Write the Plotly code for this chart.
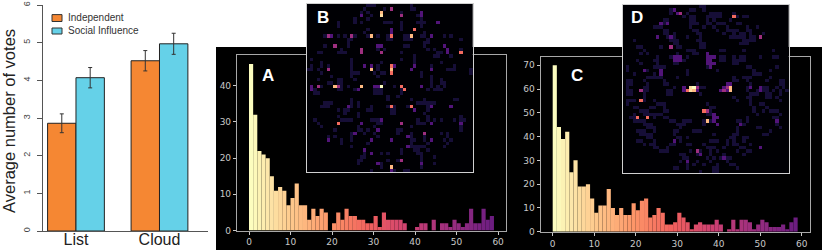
import plotly.graph_objects as go
from plotly.colors import sample_colorscale

W, H = 822, 250
# ---------- data ----------
CATEGORIES = ["List", "Cloud"]
INDEPENDENT = [2.86, 4.52]
INDEPENDENT_ERR = [0.25, 0.27]
SOCIAL = [4.07, 4.97]
SOCIAL_ERR = [0.27, 0.28]

HIST_A = [46,32,22,21,20,15,11,12,11,7,9,13,7,7,3,6,4,6,5,0,2,5,3,6,4,4,3,3,2,2,4,1,5,3,3,3,3,2,0,0,
          1,2,2,0,3,0,2,2,1,3,2,1,2,6,2,2,6,3,4]
HIST_C = [70,44,39,42,25,30,19,19,20,14,8,11,11,18,10,7,10,7,7,12,9,13,14,6,7,10,8,3,3,4,8,6,4,1,3,4,3,3,3,5,
          3,0,1,5,1,5,5,4,1,3,5,4,2,2,2,3,1,4,6]

# heat-map cells: {row: [columns]} at each count level
B_LEVEL1 = {0:[18,19,20,31],1:[17,23,31,32],2:[16,18,28,34],3:[16,19,33],4:[18,34,14],
            5:[9,14,16,23,24,25,28,33,34,35],6:[9,28,34],7:[18,25,28],8:[25,17,35],
            9:[5,9,11,14,18,21,24,29,30,34,35,41,43],10:[12,13,24,25,29,30,31,36,46],11:[12,36,35],
            12:[5,12,22,29,30,35],13:[10,21,36,38,42,46,23],14:[3,4,9,10,11,28,39,40],15:[32,39,43,38],
            16:[1,13,28,32],17:[4,13,22,32,40],18:[1,4,6,13,21,25,32,37,44],19:[0,1,3,13,21,37,42,43,44,49],
            20:[4,13,14,15,20,22,23,34,49],21:[7,13,34,37,21],22:[3,9,10,14,37,40],23:[6,7,9,10,23,37,40,41],
            24:[4,9,10,12,20,21,26,37,39,41],25:[2,9,10,14,20,21,22,28,36,38,39,40],26:[2,3,20,21,22,28],
            27:[24,27],28:[13,24,31,35,44,45],29:[5,6,7,13,15,33,34,35,36,37,38],30:[4,5,6,12,13,15,19,24,26,30,36],
            31:[9,11,12,18,19,25,26,36],32:[11,15,25,26,35],33:[9,15,36,46],
            34:[2,10,11,12,13,19,20,21,33,36,38,40,44,46,47],35:[3,21,22,33,34,35,46],36:[4,15,20,31,46],
            37:[8,15,16,18,27,28,46],38:[13,17,20,27,31,40,42],39:[6,8,13,21,31,35,42],40:[10,13,31,32,35,41,43],
            41:[10,18,31,36,42],42:[13,31,32,33,34,35,41],43:[17,28,32,33,36],44:[17,22,24,28,33,34],
            45:[16,17,34,38],46:[15,16,24,27,34],47:[15,22,34,38],48:[22,34],49:[19,26,29,30]}
B_LEVEL2 = {2:[34],3:[16,34],5:[39],7:[25],8:[25],9:[7,37,13],12:[21,22,41],13:[42],14:[42,22],
            18:[19,26,32,17],19:[31,37],24:[1,20,21,34],25:[1,15],30:[12,37,43],31:[32],
            34:[22],35:[16,37,46],37:[21],38:[14],39:[30],40:[6,19,25,37],42:[30],43:[17],44:[19],47:[21,34],49:[25]}
B_LEVEL3 = {1:[25],3:[28],9:[6,13],12:[8],13:[16],14:[16,22],19:[6],24:[3,9],35:[28],38:[35],46:[28]}
B_LEVEL4 = {7:[32],9:[25],14:[46],18:[25],20:[25],24:[28],25:[29],30:[25,31],35:[9]}
B_LEVEL5 = {2:[22],9:[19,31],19:[19,25],24:[8,16],48:[25]}
B_LEVEL6 = {3:[22]}
B_LEVEL7 = {24:[22]}

D_LEVEL1 = {0:[23,24],1:[14,20,21,24],2:[14,19,26,27,28,29,33],3:[18,20,21,25,26,27,28,29,34,36,37],
            4:[12,13,20,21,25,27,32],5:[12,13,20,21,22,25,26,28,29,30,34,35],6:[9,10,11,20,24,27,31,37,40],
            7:[12,13,21,22,28,31,32,33,34,37,38],8:[12,13,15,22,23,30,33,35,36,38,42],9:[13,14,15,19,23,32,33,34,35,36,38,39],
            10:[3,14,15,16,22,23,36,37,38,39],11:[15,16,23,24,35,36,37],12:[4,5,11,16,17,23,24],
            13:[6,19,20,21,29,30,36,45],14:[5,7,16,21,22],15:[10,14,19,29,30,33,35,36,41,45,46],
            16:[4,9,10,16,18,29,30,33,34,35,36],17:[5,10,15,16,33,34],18:[1,9,10,11,12,25,37,38,46],
            19:[1,7,11,19,28,39,44],20:[3,9,11,19,39,40,41],21:[7,8,9,10,11,16,33,36,37,38,44],
            22:[1,2,6,12,33,34,37,43,47,48],23:[1,2,7,12,13,22,38,47,48],24:[1,6,7,15,23,24,37,42,43,46,48],
            25:[1,2,6,7,13,14,37,40,42,43,45,47,49],26:[1,2,6,13,14,23,38,39,40,43,44,47],
            27:[6,33,37,38,43,44,46],28:[1,2,3,6,9,34,38,47],29:[1,10,11,12,25,38,41,42],30:[3,4,8,9,12,26,27,39,43],
            31:[5,6,7,12,13,26,39,42,44,45,46],32:[3,6,7,8,9,10,11,25,26,40,47],33:[2,3,9,12,13,27,37,45,46],
            34:[3,4,5,6,14,15,18,19,20,24,25,26,34,35,37],35:[6,7,8,16,17,18,24,35,36,46],36:[7,8,9,17,34,40,41,47],
            37:[4,5,6,9,15,16,21,22,23,34,44],38:[5,6,7,8,15,27,33,34,42,43],39:[7,8,16,17,19,32,33,36,37],
            40:[4,5,9,17,26,27,28,31,33,36],41:[6,8,9,14,15,19,20,24,31,33,34,38],42:[9,10,13,25,26,27,30,35,36],
            43:[11,12,13,20,23,26,28,34,37,38],44:[17,18,22,26,30,36],45:[18,19,25,27,29,30,31,32],
            46:[17,22,26,31],47:[19,21,24,28,32,33],48:[15,16,19,27,28,34],49:[23,27,28]}
D_LEVEL2 = {1:[15],2:[16],5:[11,13],9:[10,14],14:[25],15:[15,16,17,25,26,27],16:[15,16,17,25,26],17:[25,26,27],18:[26],
            19:[6,11],20:[11],23:[31,32],24:[18,30,41,38],25:[18,22,29,31,41],34:[27,46],33:[27,28],32:[27],35:[28,35],
            40:[15],42:[41],45:[30],46:[19],44:[23]}
D_LEVEL3 = {2:[17],9:[41],12:[14],24:[22,31],25:[5,30],31:[25],43:[22]}
D_LEVEL4 = {3:[33],25:[19],28:[5],31:[24],33:[4,7]}
D_LEVEL5 = {24:[32],25:[32,21],34:[25]}
D_LEVEL6 = {24:[20],25:[20]}
D_LEVEL7 = {24:[21]}

B_LEVELS = [B_LEVEL1, B_LEVEL2, B_LEVEL3, B_LEVEL4, B_LEVEL5, B_LEVEL6, B_LEVEL7]
D_LEVELS = [D_LEVEL1, D_LEVEL2, D_LEVEL3, D_LEVEL4, D_LEVEL5, D_LEVEL6, D_LEVEL7]
LEVEL_COUNTS = [0.9, 2.3, 4.0, 6.2, 7.7, 8.4, 9.0]

def grid(levels):
    z = [[0]*50 for _ in range(50)]
    for count, lev in zip(LEVEL_COUNTS, levels):
        for r, cols in lev.items():
            for c in cols:
                z[r][c] = count
    return z

def hist_colors(n):
    return sample_colorscale("Magma", [1.0 - 0.68*i/(n-1) for i in range(n)])

def dx(a, b): return [a/W, b/W]
def dy(top, bottom): return [1-bottom/H, 1-top/H]

FRAME = "#a8a8a8"
TICKF = dict(family="DejaVu Sans", size=9, color="#c8c8c8")
fig = go.Figure()

# left bars
fig.add_trace(go.Bar(x=CATEGORIES, y=INDEPENDENT, name="Independent", marker=dict(color="#f58733", line=dict(color="#222", width=1)),
    error_y=dict(type="data", array=INDEPENDENT_ERR, color="#333", thickness=1, width=2), xaxis="x", yaxis="y", showlegend=False))
fig.add_trace(go.Bar(x=CATEGORIES, y=SOCIAL, name="Social Influence", marker=dict(color="#65d1e8", line=dict(color="#222", width=1)),
    error_y=dict(type="data", array=SOCIAL_ERR, color="#333", thickness=1, width=2), xaxis="x", yaxis="y", showlegend=False))

# histograms
n = len(HIST_A)
bins = [i + 0.5 for i in range(n)]
fig.add_trace(go.Bar(x=bins, y=HIST_A, width=1, marker=dict(color=hist_colors(n), line=dict(width=0)), xaxis="x2", yaxis="y2", showlegend=False))
fig.add_trace(go.Bar(x=bins, y=HIST_C, width=1, marker=dict(color=hist_colors(n), line=dict(width=0)), xaxis="x3", yaxis="y3", showlegend=False))

# insets
for lv, xa, ya in [(B_LEVELS, "x4", "y4"), (D_LEVELS, "x5", "y5")]:
    fig.add_trace(go.Heatmap(z=grid(lv), colorscale="Magma", zmin=0, zmax=9, showscale=False, xaxis=xa, yaxis=ya, hoverinfo="skip"))

def frame_axis(domain, rng, **kw):
    return dict(domain=domain, range=rng, automargin=False, showgrid=False, zeroline=False, showline=True, mirror=True, linecolor=FRAME,
                linewidth=1.2, ticks="outside", ticklen=3, tickcolor="#c8c8c8", tickfont=TICKF, **kw)

def inset_axis(domain, rng, **kw):
    return dict(domain=domain, range=rng, automargin=False, showgrid=False, zeroline=False, showline=True, mirror=True, linecolor="#d0d0d0",
                linewidth=1.2, ticks="", showticklabels=False, **kw)

fig.update_layout(
    width=W, height=H, margin=dict(l=0, r=0, t=0, b=0), paper_bgcolor="white", plot_bgcolor="rgba(0,0,0,0)",
    barmode="group", bargap=0.32, bargroupgap=0, showlegend=False,
    xaxis=dict(domain=dx(43, 208), range=[-0.395, 1.581], automargin=False, type="category", categoryorder="array", categoryarray=CATEGORIES,
               showline=True, linecolor="#555", linewidth=1, ticks="", ticklabelstandoff=-6,
               tickfont=dict(family="Liberation Sans", size=16, color="#222"), showgrid=False, zeroline=False),
    yaxis=dict(domain=dy(5, 231), range=[0, 6], automargin=False, dtick=1, showline=True, linecolor="#555", linewidth=1, ticks="outside", ticklen=5,
               tickcolor="#555", tickangle=-90, ticklabelstandoff=3, tickfont=dict(family="Liberation Sans", size=9, color="#444"),
               showgrid=False, zeroline=False),
    xaxis2=frame_axis(dx(237, 506), [-2.89, 61.9], anchor="y2", dtick=10, tick0=0),
    yaxis2=frame_axis(dy(55, 230.5), [0, 48.5], anchor="x2", tickvals=[0, 10, 20, 30, 40]),
    xaxis3=frame_axis(dx(540.7, 809.7), [-2.89, 61.9], anchor="y3", dtick=10, tick0=0),
    yaxis3=frame_axis(dy(56.7, 231.7), [0, 73.6], anchor="x3", tickvals=[0, 10, 20, 30, 40, 50, 60, 70]),
    xaxis4=inset_axis(dx(306.7, 473), [-0.5, 49.5], anchor="y4"),
    yaxis4=inset_axis(dy(4, 172), [49.5, -0.5], anchor="x4"),
    xaxis5=inset_axis(dx(622.7, 789), [-0.5, 49.5], anchor="y5"),
    yaxis5=inset_axis(dy(5, 173), [49.5, -0.5], anchor="x5"),
)

def px_ann(x, y, text, size, color="white", fam="Liberation Sans", bold=False, anchor="center", angle=0):
    fig.add_annotation(xref="paper", yref="paper", x=x/W, y=1-y/H, text=f"<b>{text}</b>" if bold else text, showarrow=False,
                       xanchor=anchor, yanchor="middle", textangle=angle, font=dict(family=fam, size=size, color=color))

for x, y, t in [(268, 75, "A"), (323, 17, "B"), (577, 75, "C"), (637, 17, "D")]:
    px_ann(x, y, t, 17, bold=True)

px_ann(9, 121, "Average number of votes", 16.5, color="#222", angle=-90)

# legend key
for y0, y1, c in [(14.6, 21.5, "#f58733"), (28, 34, "#65d1e8")]:
    fig.add_shape(type="rect", xref="paper", yref="paper", x0=52/W, x1=62/W, y0=1-y1/H, y1=1-y0/H,
                  fillcolor=c, line=dict(color="#333", width=1))
px_ann(66, 18, "Independent", 10, color="#333", anchor="left")
px_ann(66, 30, "Social Influence", 10, color="#333", anchor="left")

# black panel behind the histograms
fig.add_shape(type="rect", xref="paper", yref="paper", x0=216/W, x1=1, y0=0, y1=1-47/H, fillcolor="black", line=dict(width=0), layer="below")

fig.write_html("out.html", config=dict(displayModeBar=False),
               post_script="document.body.style.margin='0';document.documentElement.style.overflow='hidden';")
